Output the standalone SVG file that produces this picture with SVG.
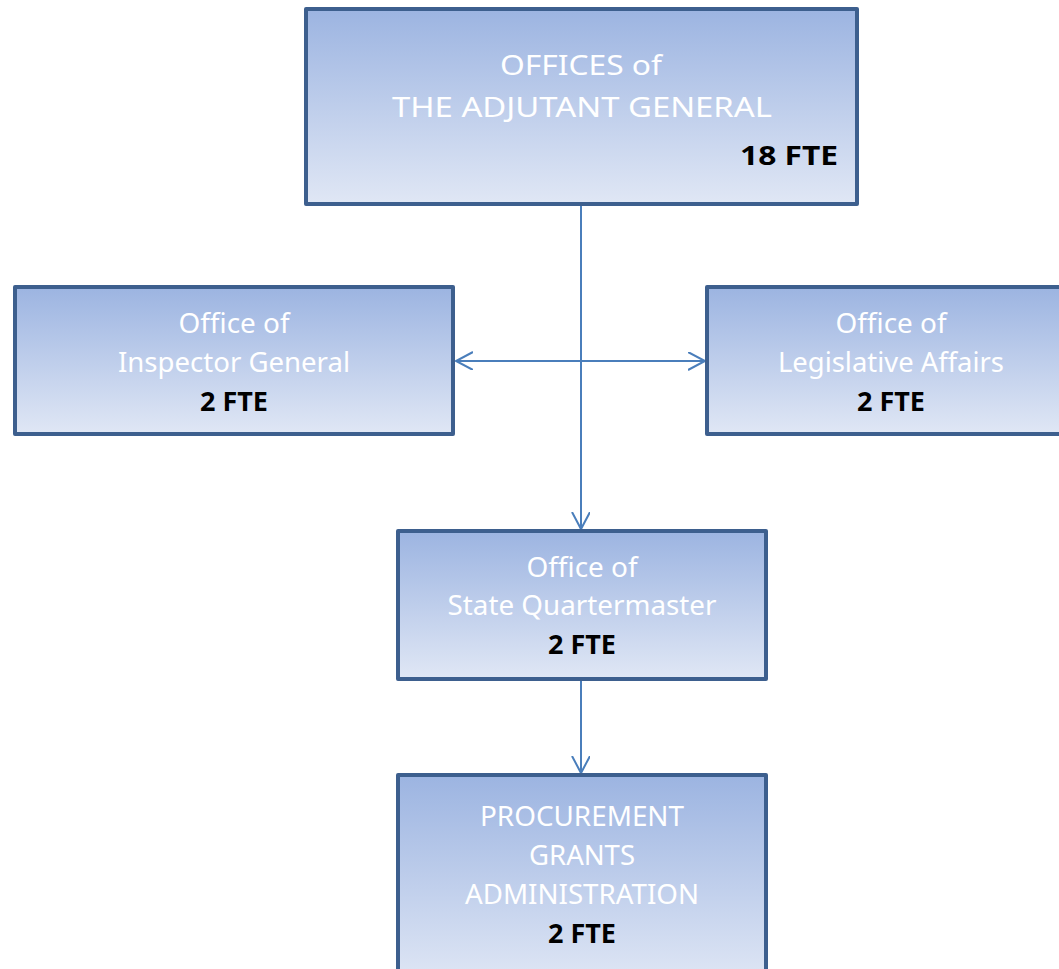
<svg xmlns="http://www.w3.org/2000/svg" width="1059" height="969" viewBox="0 0 1059 969">
<defs>
<linearGradient id="g" x1="0" y1="0" x2="0" y2="1">
<stop offset="0" stop-color="#9cb4e1"/>
<stop offset="1" stop-color="#e0e7f5"/>
</linearGradient>
<marker id="arr" markerWidth="20" markerHeight="20" refX="17" refY="9" orient="auto" markerUnits="userSpaceOnUse">
<path d="M0,0 L17,9 L0,18" fill="none" stroke="#4a7ebb" stroke-width="2"/>
</marker>
<style>
.box{fill:url(#g);stroke:#3d5f8e;stroke-width:4;stroke-linejoin:round}
.t{font-family:"Noto Sans","Open Sans",sans-serif;font-size:28px;fill:#ffffff;text-anchor:middle}
.b{font-family:"Noto Sans","Open Sans",sans-serif;font-size:27px;font-weight:bold;fill:#000000;text-anchor:middle}
.c{fill:none;stroke:#4a7ebb;stroke-width:2}
</style>
</defs>
<g id="connectors">
<line class="c" x1="581" y1="206" x2="581" y2="529" marker-end="url(#arr)"/>
<line class="c" x1="581" y1="361" x2="456" y2="361" marker-end="url(#arr)"/>
<line class="c" x1="581" y1="361" x2="705" y2="361" marker-end="url(#arr)"/>
<line class="c" x1="581" y1="680" x2="581" y2="773" marker-end="url(#arr)"/>
</g>
<g id="node-tag">
<rect class="box" x="306" y="9" width="551" height="195"/>
<text class="t" x="581" y="75" font-size="31" textLength="162" lengthAdjust="spacingAndGlyphs">OFFICES of</text>
<text class="t" x="582" y="117" font-size="31" textLength="380" lengthAdjust="spacingAndGlyphs">THE ADJUTANT GENERAL</text>
<text class="b" x="789" y="165" font-size="32" textLength="98" lengthAdjust="spacingAndGlyphs">18 FTE</text>
</g>
<g id="node-ig">
<rect class="box" x="15" y="287" width="438" height="147"/>
<text class="t" x="234" y="333" textLength="111" lengthAdjust="spacingAndGlyphs">Office of</text>
<text class="t" x="234" y="372" textLength="232" lengthAdjust="spacingAndGlyphs">Inspector General</text>
<text class="b" x="234" y="411" textLength="68" lengthAdjust="spacingAndGlyphs">2 FTE</text>
</g>
<g id="node-la">
<rect class="box" x="707" y="287" width="360" height="147"/>
<text class="t" x="891" y="333" textLength="111" lengthAdjust="spacingAndGlyphs">Office of</text>
<text class="t" x="891" y="372" textLength="226" lengthAdjust="spacingAndGlyphs">Legislative Affairs</text>
<text class="b" x="891" y="411" textLength="68" lengthAdjust="spacingAndGlyphs">2 FTE</text>
</g>
<g id="node-sq">
<rect class="box" x="398" y="531" width="368" height="148"/>
<text class="t" x="582" y="577" textLength="111" lengthAdjust="spacingAndGlyphs">Office of</text>
<text class="t" x="582" y="615" textLength="269" lengthAdjust="spacingAndGlyphs">State Quartermaster</text>
<text class="b" x="582" y="654" textLength="68" lengthAdjust="spacingAndGlyphs">2 FTE</text>
</g>
<g id="node-pga">
<rect class="box" x="398" y="775" width="368" height="210"/>
<text class="t" x="582" y="826" textLength="204" lengthAdjust="spacingAndGlyphs">PROCUREMENT</text>
<text class="t" x="582" y="865" textLength="106" lengthAdjust="spacingAndGlyphs">GRANTS</text>
<text class="t" x="582" y="904" textLength="234" lengthAdjust="spacingAndGlyphs">ADMINISTRATION</text>
<text class="b" x="582" y="943" textLength="68" lengthAdjust="spacingAndGlyphs">2 FTE</text>
</g>
</svg>
